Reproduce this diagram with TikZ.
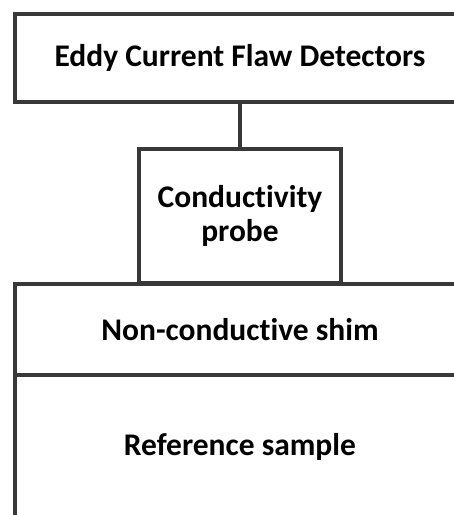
\documentclass[tikz,border=0pt]{standalone}
\usepackage{fontspec}
\setmainfont{Carlito}[Ligatures={NoCommon}]
\begin{document}
\begin{tikzpicture}[x=1pt,y=-1pt,
  block/.style={draw=black!78, line width=4pt, fill=white, inner sep=0pt,
    align=center, font=\fontsize{31.5}{34}\selectfont\bfseries}]
\useasboundingbox (0,0) rectangle (454,515);
\clip (0,0) rectangle (454,515);
% reference sample and shim underneath the probe
\node[block, minimum width=450pt, minimum height=144pt] (ref) at (240,447) {Reference sample};
\node[block, minimum width=450pt, minimum height=91pt] (shim) at (240,329.5) {Non-conductive shim};
% probe resting on the shim
\node[block, minimum width=202pt, minimum height=134pt] (probe) at (240,216) {Conductivity\\probe};
% instrument
\node[block, minimum width=450pt, minimum height=88pt] (eddy) at (240,58) {Eddy Current Flaw Detectors};
\draw[draw=black!78, line width=4pt] (eddy.south) -- (probe.north);
\end{tikzpicture}
\end{document}
